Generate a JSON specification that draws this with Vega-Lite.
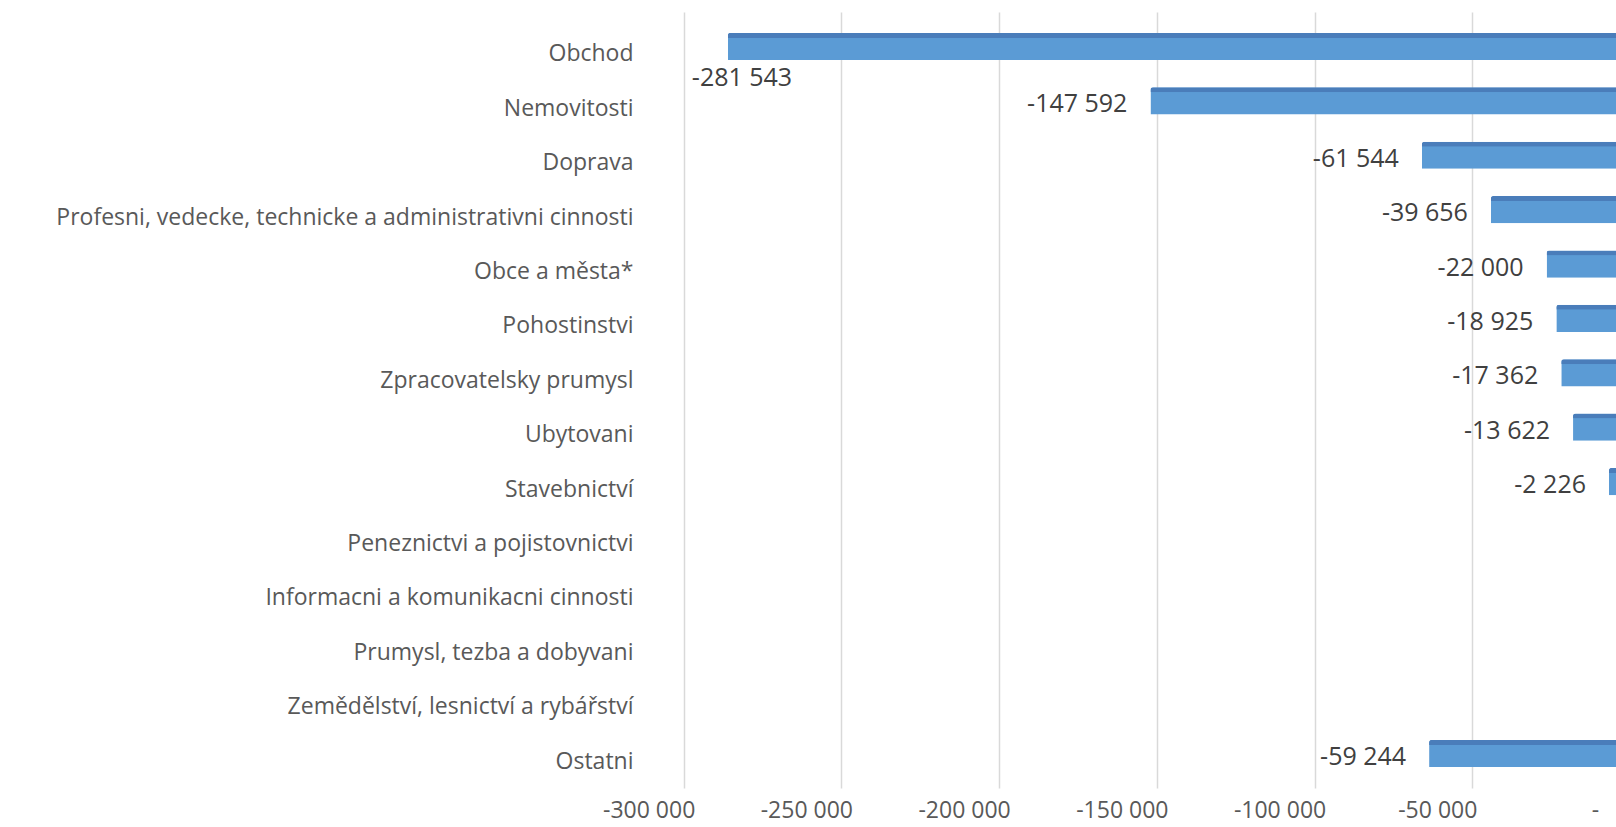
{
  "$schema": "https://vega.github.io/schema/vega-lite/v6.json",
  "autosize": {"type": "none"},
  "padding": {"left": 655, "top": 12, "right": 0, "bottom": 39},
  "width": 961,
  "height": 776,
  "background": "white",
  "config": {
    "view": {"stroke": null},
    "font": "Open Sans",
    "locale": {"number": {"decimal": ",", "thousands": " ", "grouping": [3], "currency": ["", " Kč"], "minus": "-"}}
  },
  "data": {
    "values": [
      {"odvetvi": "Obchod", "hodnota": -281543},
      {"odvetvi": "Nemovitosti", "hodnota": -147592},
      {"odvetvi": "Doprava", "hodnota": -61544},
      {"odvetvi": "Profesni, vedecke, technicke a administrativni cinnosti", "hodnota": -39656},
      {"odvetvi": "Obce a města*", "hodnota": -22000},
      {"odvetvi": "Pohostinstvi", "hodnota": -18925},
      {"odvetvi": "Zpracovatelsky prumysl", "hodnota": -17362},
      {"odvetvi": "Ubytovani", "hodnota": -13622},
      {"odvetvi": "Stavebnictví", "hodnota": -2226},
      {"odvetvi": "Peneznictvi a pojistovnictvi", "hodnota": 0},
      {"odvetvi": "Informacni a komunikacni cinnosti", "hodnota": 0},
      {"odvetvi": "Prumysl, tezba a dobyvani", "hodnota": 0},
      {"odvetvi": "Zemědělství, lesnictví a rybářství", "hodnota": 0},
      {"odvetvi": "Ostatni", "hodnota": -59244}
    ]
  },
  "encoding": {
    "y": {
      "field": "odvetvi",
      "type": "nominal",
      "sort": null,
      "scale": {"paddingInner": 0.5, "paddingOuter": 0.384},
      "axis": {
        "title": null,
        "domain": false,
        "ticks": false,
        "grid": false,
        "labelFontSize": 23,
        "labelColor": "#595959",
        "labelPadding": 22,
        "labelOffset": 8,
        "labelLimit": 1000
      }
    }
  },
  "layer": [
    {
      "mark": {"type": "bar", "color": "#5b9bd5", "cornerRadiusTopLeft": 3},
      "encoding": {
        "x": {
          "field": "hodnota",
          "type": "quantitative",
          "scale": {"domain": [-304640, 0], "nice": false},
          "axis": {
            "title": null,
            "values": [-300000, -250000, -200000, -150000, -100000, -50000, 0],
            "labelExpr": "datum.value == 0 ? '-' : format(datum.value, ',')",
            "tickOffset": 14,
            "labelOffset": -35,
            "labelFlush": false,
            "labelOverlap": false,
            "domain": false,
            "ticks": false,
            "grid": true,
            "gridColor": "#d9d9d9",
            "gridWidth": 1.5,
            "labelPadding": 11,
            "labelFontSize": 23,
            "labelColor": "#595959"
          }
        }
      }
    },
    {
      "mark": {"type": "bar", "color": "#4a7dba", "size": 5, "yOffset": -11.1, "cornerRadiusTopLeft": 3},
      "encoding": {
        "x": {"field": "hodnota", "type": "quantitative"}
      }
    },
    {
      "transform": [{"filter": "datum.hodnota < 0 && datum.odvetvi != 'Obchod'"}],
      "mark": {"type": "text", "align": "right", "baseline": "middle", "dx": -23, "dy": 3.5, "fontSize": 25, "color": "#404040"},
      "encoding": {
        "x": {"field": "hodnota", "type": "quantitative"},
        "text": {"field": "hodnota", "type": "quantitative", "format": ","}
      }
    },
    {
      "transform": [{"filter": "datum.odvetvi == 'Obchod'"}],
      "mark": {"type": "text", "align": "left", "baseline": "middle", "dx": -36, "dy": 31.5, "fontSize": 25, "color": "#404040"},
      "encoding": {
        "x": {"field": "hodnota", "type": "quantitative"},
        "text": {"field": "hodnota", "type": "quantitative", "format": ","}
      }
    }
  ]
}
